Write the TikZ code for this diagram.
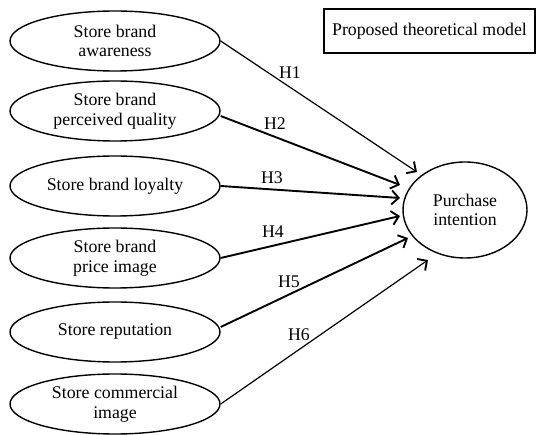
\documentclass[tikz,border=0pt]{standalone}
\usepackage{fontspec}
\setmainfont{Liberation Serif}
\usetikzlibrary{shapes.geometric,arrows.meta}
\begin{document}
\begin{tikzpicture}[x=1pt,y=-1pt,
  var/.style={ellipse,draw,line width=1.4pt,minimum width=210pt,minimum height=60pt,inner sep=0pt,align=center,font=\fontsize{17.8}{19.5}\selectfont},
  hyp/.style={line width=1.9pt,-{Straight Barb[length=7pt,width=14pt,line width=1.9pt]}},
  hypthin/.style={line width=1.2pt,-{Straight Barb[length=7pt,width=14pt,line width=1.9pt]}},
  lab/.style={font=\fontsize{17.8}{19.5}\selectfont,inner sep=0pt}]
\useasboundingbox (0,0) rectangle (536,435);
\node[var] (e1) at (115,41) {Store brand\\awareness};
\node[var] (e2) at (115,111) {Store brand\\perceived quality};
\node[var] (e3) at (115,186) {Store brand loyalty};
\node[var] (e4) at (115,258) {Store brand\\price image};
\node[var] (e5) at (115,332) {Store reputation};
\node[var] (e6) at (115,404) {Store commercial\\image};
\node[var,minimum width=124pt,minimum height=96pt] (pi) at (465,210) {Purchase\\intention};
\node[draw,line width=1.1pt,minimum width=211pt,minimum height=44pt,inner sep=0pt,font=\fontsize{17.8}{19.5}\selectfont] (title) at (429.5,31) {Proposed theoretical model};
\coordinate (t1) at (417,172);
\coordinate (t2) at (400,185);
\coordinate (t3) at (400,198);
\coordinate (t4) at (400,216);
\coordinate (t5) at (408,238);
\coordinate (t6) at (428,260);
\draw[hypthin] (e1.east) -- (t1);
\draw[hyp] ([yshift=-5pt]e2.east) -- (t2);
\draw[hyp] (e3.east) -- (t3);
\draw[hyp] (e4.east) -- (t4);
\draw[hyp] ([yshift=5pt]e5.east) -- (t5);
\draw[hypthin] (e6.east) -- (t6);
\node[lab] (h1) at (290,73) {H1};
\node[lab] (h2) at (275,124) {H2};
\node[lab] (h3) at (272,178) {H3};
\node[lab] (h4) at (273,232) {H4};
\node[lab] (h5) at (289,282) {H5};
\node[lab] (h6) at (299,335) {H6};
\end{tikzpicture}
\end{document}
